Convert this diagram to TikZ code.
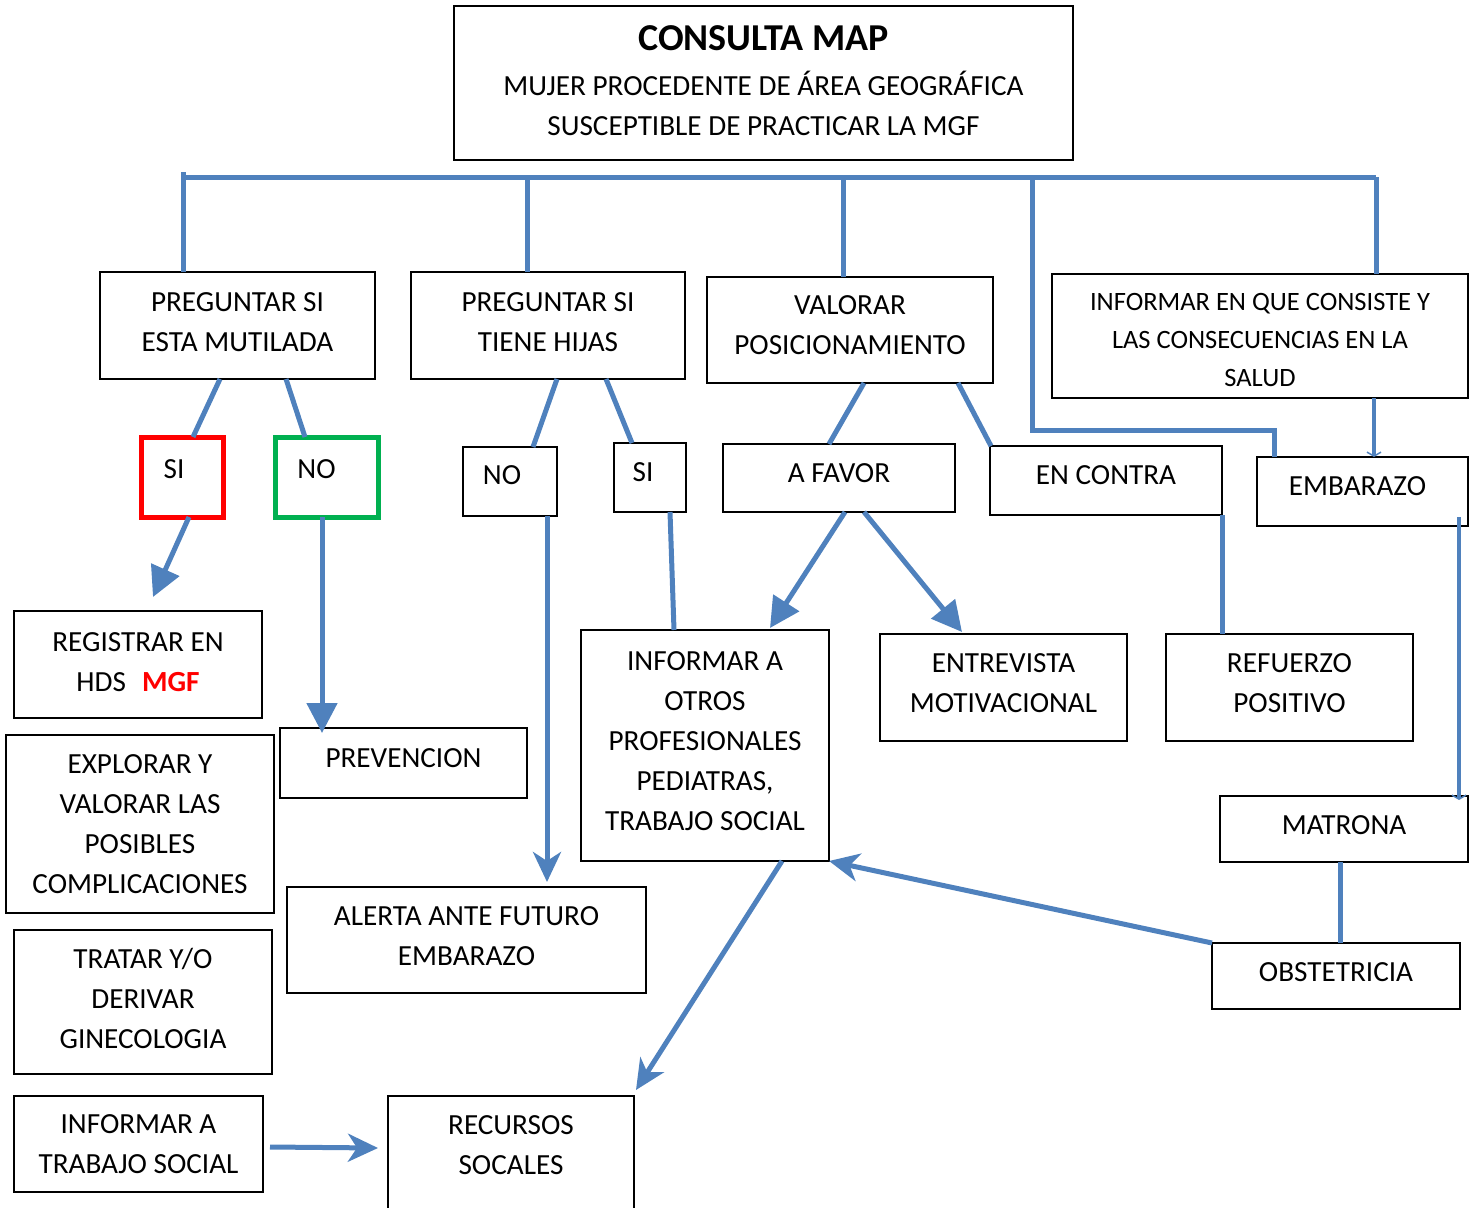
\documentclass[tikz,border=0pt]{standalone}
\usepackage{fontspec}
\setmainfont{Carlito}
\usetikzlibrary{arrows.meta}
\definecolor{lnblue}{HTML}{4F81BD}
\definecolor{sired}{HTML}{FF0000}
\definecolor{nogreen}{HTML}{00B050}
\tikzset{
  box/.style={draw=black, line width=2pt, inner sep=0pt, outer sep=0pt, align=center,
    font=\fontsize{29.2}{40}\selectfont},
  conn/.style={draw=lnblue, line width=5pt},
  tri/.style={conn, -{Triangle[length=30pt,width=30pt]}},
  stl/.style={conn, -{Stealth[length=30pt,width=28pt,inset=9pt]}},
  tiny/.style={draw=lnblue, line width=4pt, -{Straight Barb[length=4pt,width=14pt,line width=1.5pt]}},
}
\begin{document}
\begin{tikzpicture}[x=1pt,y=-1pt]
\useasboundingbox (0,0) rectangle (1477,1207);
% nodes
\node[box, minimum width=619pt, minimum height=154pt, text depth=4pt] (top) at (763.5,83)
  {{\fontsize{38}{44}\selectfont\bfseries CONSULTA MAP}\\[5pt]MUJER PROCEDENTE DE ÁREA GEOGRÁFICA\\SUSCEPTIBLE DE PRACTICAR LA MGF};
\node[box, minimum width=275pt, minimum height=107pt, text depth=6pt] (pm) at (237.5,325.5) {PREGUNTAR SI\\ESTA MUTILADA};
\node[box, minimum width=274pt, minimum height=107pt, text depth=6pt] (ph) at (548,325.5) {PREGUNTAR SI\\TIENE HIJAS};
\node[box, minimum width=286pt, minimum height=106pt, text depth=9pt] (vp) at (850,330) {VALORAR\\POSICIONAMIENTO};
\node[box, minimum width=416pt, minimum height=124pt, text height=101pt, font=\fontsize{26.5}{38}\selectfont] (inf) at (1260,336)
  {INFORMAR EN QUE CONSISTE Y\\LAS CONSECUENCIAS EN LA\\SALUD};
\node[box, draw=sired, line width=5pt, minimum width=82pt, minimum height=80pt, text depth=16pt] (si1) at (182,477) {SI\hspace{16pt}};
\node[box, draw=nogreen, line width=5pt, minimum width=103pt, minimum height=80pt, text depth=16pt] (no1) at (326.5,477) {NO\hspace{20pt}};
\node[box, minimum width=94pt, minimum height=69pt, text depth=12pt] (no2) at (510,481.5) {NO\hspace{16pt}};
\node[box, minimum width=72pt, minimum height=69pt, text depth=10pt] (si2) at (650,477.5) {SI\hspace{14pt}};
\node[box, minimum width=232pt, minimum height=68pt, text depth=10pt] (afavor) at (839,478) {A FAVOR};
\node[box, minimum width=232pt, minimum height=69pt, text depth=10pt] (encontra) at (1106,480.5) {EN CONTRA};
\node[box, minimum width=211pt, minimum height=69pt, text depth=10pt] (emb) at (1362.5,491.5) {EMBARAZO\hspace{10pt}};
\node[box, minimum width=248pt, minimum height=107pt, text depth=5pt] (reg) at (138,664.5)
  {REGISTRAR EN\\HDS\hspace{16pt}\textcolor{sired}{\bfseries MGF}};
\node[box, minimum width=247pt, minimum height=70pt, text depth=10pt] (prev) at (403.5,763) {PREVENCION};
\node[box, minimum width=248pt, minimum height=231pt, text depth=9pt] (infotros) at (705,745.5)
  {INFORMAR A\\OTROS\\PROFESIONALES\\PEDIATRAS,\\TRABAJO SOCIAL};
\node[box, minimum width=247pt, minimum height=107pt, text depth=9pt] (entrev) at (1003.5,687.5) {ENTREVISTA\\MOTIVACIONAL};
\node[box, minimum width=247pt, minimum height=107pt, text depth=9pt] (refuerzo) at (1289.5,687.5) {REFUERZO\\POSITIVO};
\node[box, minimum width=268pt, minimum height=178pt] (explorar) at (140,824)
  {EXPLORAR Y\\VALORAR LAS\\POSIBLES\\COMPLICACIONES};
\node[box, minimum width=248pt, minimum height=66pt, text depth=8pt] (matrona) at (1344,829) {MATRONA};
\node[box, minimum width=359pt, minimum height=106pt, text depth=7pt] (alerta) at (466.5,940) {ALERTA ANTE FUTURO\\EMBARAZO};
\node[box, minimum width=248pt, minimum height=66pt, text depth=8pt] (obst) at (1336,976) {OBSTETRICIA};
\node[box, minimum width=258pt, minimum height=144pt, text depth=7pt] (tratar) at (143,1002) {TRATAR Y/O\\DERIVAR\\GINECOLOGIA};
\node[box, minimum width=249pt, minimum height=96pt] (inftrab) at (138.5,1144) {INFORMAR A\\TRABAJO SOCIAL};
\node[box, minimum width=246pt, minimum height=124pt, text depth=26pt] (rec) at (511,1158) {RECURSOS\\SOCALES};
% bus
\coordinate (busL) at (183,177);
\coordinate (busR) at (1376,177);
\coordinate (junc) at (1032,177);
\draw[conn] (busL) -- (busR);
\draw[conn] ([xshift=-54.5pt]pm.north) -- ([yshift=5pt]busL);
\draw[conn] ([xshift=-21pt]ph.north) -- ([xshift=-21pt]ph.north |- busL);
\draw[conn] ([xshift=-7pt]vp.north) -- ([xshift=-7pt]vp.north |- busL);
\draw[conn] ([xshift=116pt]inf.north) -- (busR);
\draw[conn] ([xshift=-88.5pt]emb.north) -- ++(0,-27) -| (junc);
% branches
\draw[conn] ([xshift=-17.5pt]pm.south) -- ([xshift=11pt]si1.north);
\draw[conn] ([xshift=48.5pt]pm.south) -- ([xshift=-21.5pt]no1.north);
\draw[tri] ([xshift=7pt]si1.south) -- ([xshift=15pt,yshift=14pt]reg.north);
\draw[tri] ([xshift=-4.5pt]no1.south) -- ([xshift=-81.5pt,yshift=-5pt]prev.north);
\draw[conn] ([xshift=9pt]ph.south) -- ([xshift=23pt]no2.north);
\draw[conn] ([xshift=58pt]ph.south) -- ([xshift=-18pt]si2.north);
\draw[stl] ([xshift=37pt]no2.south) -- ([xshift=80.5pt,yshift=5pt]alerta.north);
\draw[conn] ([xshift=20pt]si2.south) -- ([xshift=-31pt]infotros.north);
\draw[conn] ([xshift=14pt]vp.south) -- ([xshift=-10pt]afavor.north);
\draw[conn] ([xshift=108pt]vp.south) -- ([xshift=-115pt]encontra.north);
\draw[tri] ([xshift=6pt]afavor.south) -- ([xshift=65pt,yshift=2pt]infotros.north);
\draw[tri] ([xshift=25pt]afavor.south) -- ([xshift=-41.5pt,yshift=2pt]entrev.north);
\draw[conn] (encontra.south east) -- (encontra.south east |- refuerzo.north);
\draw[tiny] ([xshift=114pt]inf.south) -- ([xshift=11.5pt]emb.north);
\draw[tiny] ([xshift=-9pt,yshift=9pt]emb.south east) -- ([xshift=-9pt,yshift=-4pt]matrona.north east);
\draw[conn] ([xshift=-4pt]matrona.south) -- ([xshift=4pt]obst.north);
\draw[stl] (obst.north west) -- (infotros.south east);
\draw[stl] ([xshift=77pt]infotros.south) -- ([xshift=2pt,yshift=6pt]rec.north east);
\draw[stl] ([xshift=7pt,yshift=-3pt]inftrab.east) -- ([xshift=-10pt,yshift=-52pt]rec.north west);
\end{tikzpicture}
\end{document}
